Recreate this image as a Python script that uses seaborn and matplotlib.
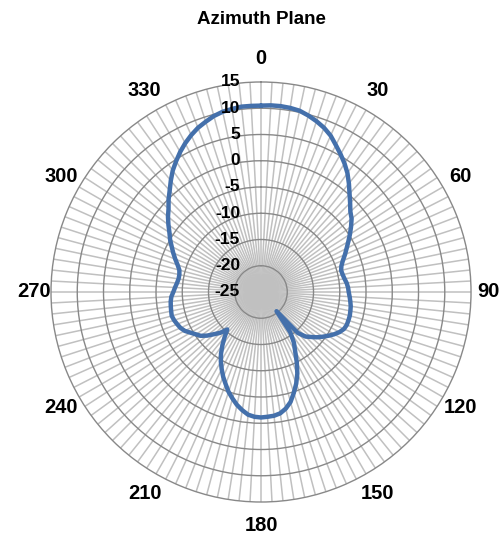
import numpy as np
import pandas as pd
import matplotlib
matplotlib.use('Agg')
import matplotlib.pyplot as plt
import matplotlib.transforms as mtransforms
import seaborn as sns

# azimuth angle (deg) every 3 degrees and measured gain (dB)
angles = list(range(0, 360, 3))
gain = [10.5, 10.6, 10.6, 10.5, 10.3, 9.8, 9.2, 8.5, 7.6, 6.4,
        5.3, 4.2, 3.0, 1.6, 0.2, -1.0, -2.1, -2.8, -3.8, -4.8,
        -5.8, -6.7, -7.5, -8.3, -8.9, -9.2, -9.1, -8.9, -8.6, -8.4,
        -8.3, -8.1, -7.9, -7.7, -7.6, -7.5, -7.5, -7.5, -7.7, -8.2,
        -8.9, -9.7, -10.5, -11.3, -12.2, -13.0, -14.5, -20.3, -15.5, -13.5,
        -12.0, -10.0, -8.0, -6.3, -4.8, -3.3, -2.3, -1.6, -1.3, -1.2,
        -1.1, -1.2, -1.5, -2.2, -3.0, -4.0, -5.0, -6.2, -7.3, -8.5,
        -9.7, -11.0, -12.5, -14.0, -15.4, -14.0, -13.0, -11.8, -10.8, -10.2,
        -9.5, -8.7, -8.2, -7.9, -7.6, -7.4, -7.5, -7.6, -7.7, -7.9,
        -8.3, -8.6, -8.9, -9.1, -9.1, -8.9, -8.3, -7.5, -6.7, -5.9,
        -5.0, -4.2, -3.2, -2.2, -1.3, -0.1, 1.0, 2.3, 3.6, 4.7,
        5.8, 6.8, 7.7, 8.5, 9.1, 9.7, 10.1, 10.3, 10.5, 10.5]

angle_labels = ['0', '30', '60', '90', '120', '150', '180', '210', '240', '270', '300', '330']
ring_values = [15, 10, 5, 0, -5, -10, -15, -20, -25]
r_min, r_max = -25, 15

sns.set_theme(style='white')
plt.rcParams['font.family'] = ['Liberation Sans', 'DejaVu Sans']

df = pd.DataFrame({'theta': np.deg2rad(angles + [360]), 'gain': gain + [gain[0]]})

fig = plt.figure(figsize=(5.02, 5.38), dpi=100)
ax = fig.add_axes([0.1016, 0.0669, 0.8367, 0.7807], projection='polar')
ax.set_theta_zero_location('N')
ax.set_theta_direction(-1)
ax.set_ylim(r_min, r_max)

# spokes every 3 degrees, rings every 5 dB
ax.set_xticks(np.deg2rad(angles))
ax.set_xticklabels([])
ax.set_yticks([v for v in ring_values if r_min < v < r_max])
ax.set_yticklabels([])
ax.tick_params(length=0)
ax.xaxis.grid(True, color='#c0c0c0', linewidth=1.1)
ax.yaxis.grid(True, color='#888888', linewidth=1.0)
ax.spines['polar'].set_color('#888888')
ax.spines['polar'].set_linewidth(1.0)
ax.set_facecolor('white')

sns.lineplot(data=df, x='theta', y='gain', ax=ax, color='#4470ab',
             linewidth=3.2, sort=False, legend=False)
ax.set_xlabel('')
ax.set_ylabel('')

# angle labels outside the circle
for i, lab in enumerate(angle_labels):
    th = np.deg2rad(i * 30)
    ax.text(th, r_max + 3.3 + 1.2 * abs(np.cos(th)), lab, ha='center', va='center',
            fontsize=14.5, fontweight='bold', color='black', clip_on=False)

# radial value labels left of the 0 degree spoke
off = mtransforms.offset_copy(ax.transData, fig=fig, x=-21, y=0, units='dots')
for v in ring_values:
    ax.text(0, v, str(v), transform=off, ha='right', va='center',
            fontsize=12.5, fontweight='bold', color='black', clip_on=False)

fig.text(261 / 502, 1 - 20 / 538, 'Azimuth Plane', ha='center', va='center',
         fontsize=13.5, fontweight='bold', color='black')

fig.savefig('out.png', dpi=100)
